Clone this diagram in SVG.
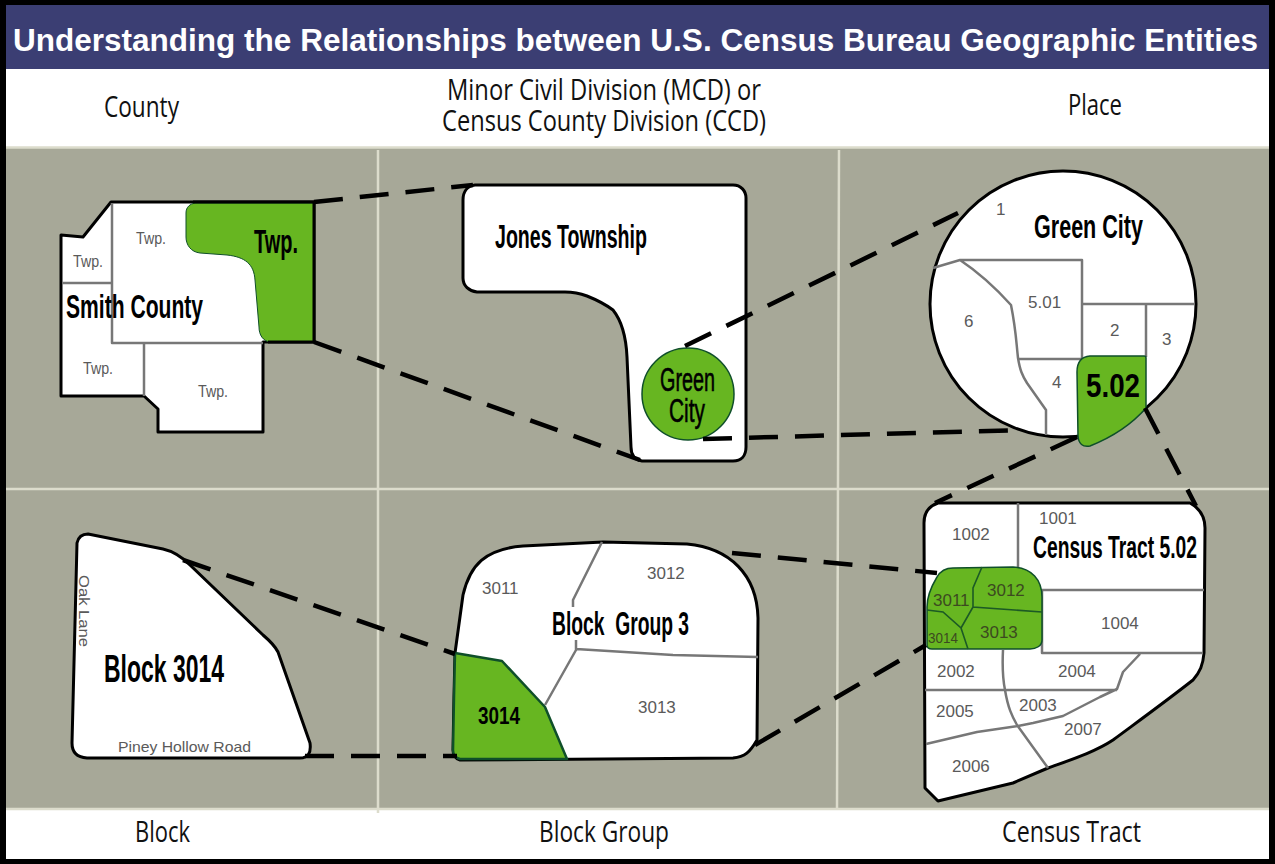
<svg xmlns="http://www.w3.org/2000/svg" width="1275" height="864" viewBox="0 0 1275 864">
<style>
text{font-family:"Liberation Sans",Arial,sans-serif}
.hd{font-family:"Open Sans","Noto Sans",sans-serif;font-size:29px;fill:#111}
.ttl{font-weight:bold;font-size:31px;fill:#fff}
.big{font-weight:bold;font-size:34px;fill:#000}
.sm{font-size:17px;fill:#5a5a5a}
.onGreen{font-size:17px;fill:#3c4a20}
.grid{stroke:#dcdccc;stroke-width:2.5;fill:none}
.map{fill:#fff;stroke:#000;stroke-width:3;stroke-linejoin:round}
.inner{fill:none;stroke:#777;stroke-width:2.5;stroke-linejoin:round}
.green{fill:#67b621;stroke:#0f4f2a;stroke-width:1.5;stroke-linejoin:round}
.gl{fill:none;stroke:#1c5a25;stroke-width:1.6}
.dash{fill:none;stroke:#000;stroke-width:4.500;stroke-dasharray:29 17}
</style>
<rect width="1275" height="864" fill="#000"/>
<g id="frame">
<rect x="6" y="5" width="1263" height="64" fill="#3b3e73"/>
<rect x="6" y="69" width="1263" height="78" fill="#fff"/>
<rect x="6" y="147" width="1263" height="662" fill="#a7a898"/>
<rect x="6" y="809" width="1263" height="50" fill="#fff"/>
<path class="grid" d="M378,150V813M839,150L837,809M6,489H1269M6,147.500H1269M6,809H1269"/>
<text class="ttl" x="13" y="51" textLength="1245" lengthAdjust="spacingAndGlyphs">Understanding the Relationships between U.S. Census Bureau Geographic Entities</text>
<text class="hd" x="104" y="117" textLength="75" lengthAdjust="spacingAndGlyphs">County</text>
<text class="hd" x="447" y="100" textLength="314" lengthAdjust="spacingAndGlyphs">Minor Civil Division (MCD) or</text>
<text class="hd" x="442" y="131" textLength="324" lengthAdjust="spacingAndGlyphs">Census County Division (CCD)</text>
<text class="hd" x="1068" y="115" textLength="54" lengthAdjust="spacingAndGlyphs">Place</text>
<text class="hd" x="135" y="842" textLength="55" lengthAdjust="spacingAndGlyphs">Block</text>
<text class="hd" x="539" y="842" textLength="130" lengthAdjust="spacingAndGlyphs">Block Group</text>
<text class="hd" x="1002" y="842" textLength="139" lengthAdjust="spacingAndGlyphs">Census Tract</text>
</g>
<g id="county">
<path class="map" d="M61,235L83,237L111,202H314V342H263V432H158V409L144,396H61Z"/>
<path class="inner" d="M112,203V343H263M144,343V396M62,283H112"/>
<path class="green" style="stroke-width:1" d="M195,203H314V342H270C263,341 259,335 259,327L255,280C254,264 245,257 227,255L200,253C191,252 186,245 186,237V213C186,207 190,204 195,203Z"/>
<path d="M193,202H314V342H268" fill="none" stroke="#000" stroke-width="3"/>
<text class="big" style="font-size:33px" x="254" y="253" textLength="44" lengthAdjust="spacingAndGlyphs">Twp.</text>
<text class="big" x="66" y="318" textLength="137" lengthAdjust="spacingAndGlyphs">Smith County</text>
<text class="sm" x="136" y="244" textLength="30" lengthAdjust="spacingAndGlyphs">Twp.</text>
<text class="sm" x="73" y="267" textLength="30" lengthAdjust="spacingAndGlyphs">Twp.</text>
<text class="sm" x="83" y="374" textLength="30" lengthAdjust="spacingAndGlyphs">Twp.</text>
<text class="sm" x="198" y="397" textLength="30" lengthAdjust="spacingAndGlyphs">Twp.</text>
</g>
<g id="mcd">
<path class="map" d="M475,185H733C741,185 746,191 746,198V447C746,456 741,461 733,461H642C635,460 631,455 631,447L627,357C626,335 621,320 613,310C605,304 597,300 587,296C579,293 572,292 565,292H477C469,291 463,286 463,278V200C463,192 467,186 475,185Z"/>
<circle class="green" cx="688" cy="394" r="46"/>
<text class="big" x="660" y="391" textLength="55" lengthAdjust="spacingAndGlyphs" style="font-weight:normal;stroke:#000;stroke-width:.6">Green</text>
<text class="big" x="669" y="422" textLength="36" lengthAdjust="spacingAndGlyphs" style="font-weight:normal;stroke:#000;stroke-width:.6">City</text>
<text class="big" x="495" y="248" textLength="152" lengthAdjust="spacingAndGlyphs">Jones Township</text>
</g>
<g id="place">
<circle class="map" cx="1063" cy="304" r="133"/>
<path class="inner" d="M933,268L960,260H1082V358M1082,304H1195M1146,304V357M960,260C978,272 993,285 1011,305C1016,330 1016,340 1018,358C1020,370 1022,375 1027,383L1046,410V435M1018,359H1082"/>
<path class="green" d="M1090,356H1144Q1146,356 1146,358V408Q1125,432 1090,446Q1079,448 1078,436L1077,372Q1077,357 1090,356Z"/>
<text class="sm" x="996" y="215">1</text>
<text class="big" x="1034" y="238" textLength="109" lengthAdjust="spacingAndGlyphs">Green City</text>
<text class="sm" x="1028" y="308">5.01</text>
<text class="sm" x="964" y="327">6</text>
<text class="sm" x="1110" y="336">2</text>
<text class="sm" x="1162" y="345">3</text>
<text class="sm" x="1052" y="388">4</text>
<text class="big" x="1086" y="397" textLength="54" lengthAdjust="spacingAndGlyphs">5.02</text>
</g>
<g id="tract">
<path class="map" d="M938,503H1190C1199,508 1205,515 1205,528L1204,653C1203,665 1200,672 1193,680C1165,702 1140,720 1113,740C1095,752 1070,760 1048,768L1013,783L938,801L925,788L924,523C924,513 929,506 938,503Z"/>
<path class="inner" d="M1018,503V568M1042,590H1204M1042,590V653H1203M1003,650C1002,670 1003,680 1005,690C1008,708 1012,716 1017,725L1048,768M925,690H1117M1140,654L1123,672L1117,689L1100,697L1063,716L1033,723L1018,726L977,732L926,744"/>
<path class="green" d="M937,577C941,570 947,568 953,568L1013,567C1032,568 1042,580 1042,597V640C1042,646 1036,649 1030,649H932Q927,649 927,645V607C927,597 931,587 937,577Z"/>
<path class="gl" d="M982,567L973,588V607L1042,612M973,607L961,628M927,610L943,612L961,628L968,649"/>
<text class="onGreen" x="933" y="606">3011</text>
<text class="onGreen" x="987" y="596">3012</text>
<text class="onGreen" x="980" y="638">3013</text>
<text class="onGreen" style="font-size:14px" x="928" y="643" textLength="30" lengthAdjust="spacingAndGlyphs">3014</text>
<text class="sm" x="952" y="540">1002</text>
<text class="sm" x="1039" y="524">1001</text>
<text class="big" style="font-size:32px" x="1033" y="558" textLength="164" lengthAdjust="spacingAndGlyphs">Census Tract 5.02</text>
<text class="sm" x="1101" y="629">1004</text>
<text class="sm" x="937" y="677">2002</text>
<text class="sm" x="1058" y="677">2004</text>
<text class="sm" x="936" y="717">2005</text>
<text class="sm" x="1019" y="711">2003</text>
<text class="sm" x="1064" y="735">2007</text>
<text class="sm" x="952" y="772">2006</text>
</g>
<g id="blockgroup">
<path class="map" d="M455,653L463,595C470,565 485,549 523,546L603,542L687,544C730,548 757,575 758,618L757,740C750,752 745,757 733,758L460,760Q453,758 453,750L454,697Z"/>
<path class="inner" d="M602,542L573,600V607M576,640V650L545,705M576,649L673,655L758,657"/>
<path class="green" style="stroke-width:2.5" d="M455,653L502,661L545,707L567,759H460Q453,757 453,750L454,697Z"/>
<text class="sm" x="482" y="594">3011</text>
<text class="sm" x="647" y="579">3012</text>
<text class="big" style="white-space:pre" x="552" y="635" textLength="137" lengthAdjust="spacingAndGlyphs">Block  Group 3</text>
<text class="sm" x="638" y="713">3013</text>
<text class="big" style="font-size:24px" x="478" y="724" textLength="42" lengthAdjust="spacingAndGlyphs">3014</text>
</g>
<g id="block">
<path class="map" d="M77,543Q79,534 88,534L163,549C172,551 182,557 190,565L263,635C270,641 275,646 278,652L310,743Q312,758 300,758H87Q72,757 72,743Z"/>
<text class="sm" style="font-size:15px" transform="translate(79,575) rotate(90)" textLength="72" lengthAdjust="spacingAndGlyphs">Oak Lane</text>
<text class="sm" style="font-size:15px" x="118" y="752" textLength="133" lengthAdjust="spacingAndGlyphs">Piney Hollow Road</text>
<text class="big" style="font-size:38px" x="104" y="682" textLength="120" lengthAdjust="spacingAndGlyphs">Block 3014</text>
</g>
<g id="connectors">
<path class="dash" d="M314,202L473,185"/>
<path class="dash" d="M314,342L640,460"/>
<path class="dash" d="M685,346L958,213"/>
<path class="dash" d="M703,439L1023,430"/>
<path class="dash" d="M1077,437L935,503"/>
<path class="dash" d="M1145,408L1196,506"/>
<path class="dash" d="M732,553L937,573"/>
<path class="dash" d="M755,745L926,645"/>
<path class="dash" d="M183,560L455,654"/>
<path class="dash" d="M305,756H457"/>
</g>
</svg>
